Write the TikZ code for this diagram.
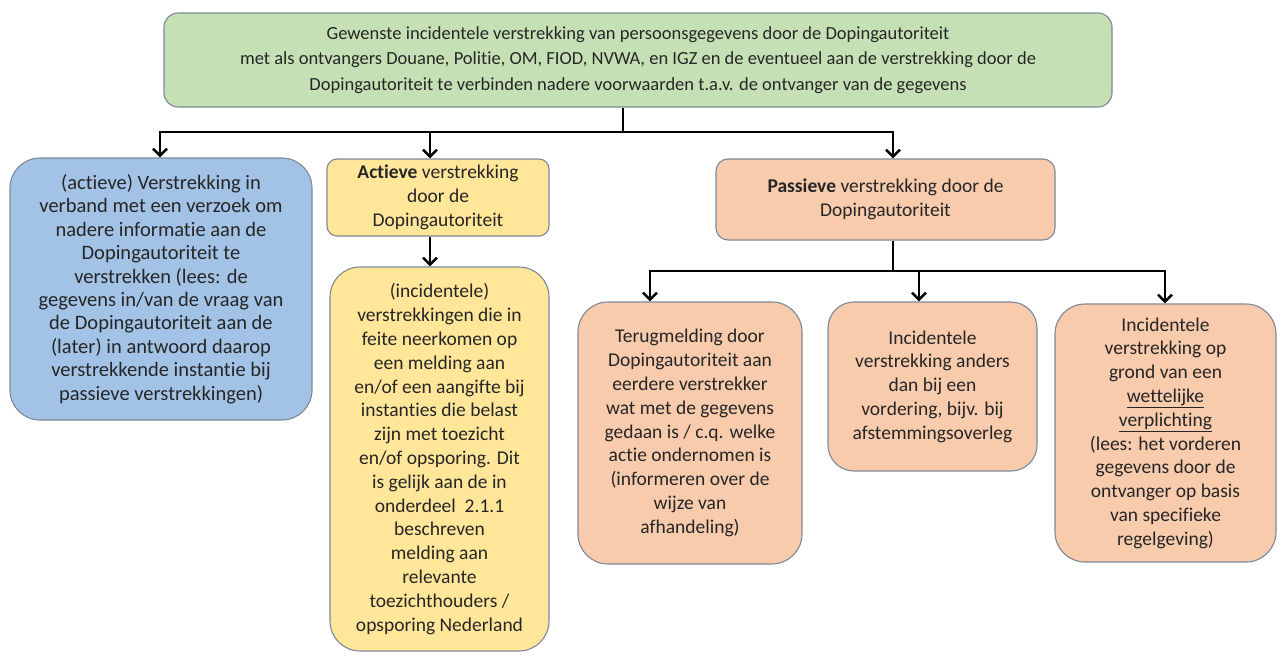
\documentclass[tikz,border=0pt]{standalone}
\usepackage{fontspec}
\setmainfont{Carlito}[Ligatures=NoCommon]
\usetikzlibrary{arrows.meta}

\definecolor{headgreen}{HTML}{C5E0B4}
\definecolor{actblue}{HTML}{A3C3E6}
\definecolor{actyellow}{HTML}{FFE699}
\definecolor{pasorange}{HTML}{F8CBAD}
\definecolor{edgegrey}{HTML}{7D8896}

\begin{document}
\begin{tikzpicture}[
    x=1pt, y=-1pt,
    font=\fontsize{19.5}{23.8}\selectfont,
    box/.style={draw=edgegrey, line width=1.1pt, align=center, inner sep=2pt, text=black!85},
    head/.style={box, fill=headgreen, rounded corners=14pt,
                 font=\fontsize{18.5}{25.5}\selectfont},
    act/.style={box, fill=actblue, rounded corners=30pt,
                font=\fontsize{20.5}{23.4}\selectfont},
    actv/.style={box, fill=actyellow},
    pasv/.style={box, fill=pasorange},
    bar/.style={line width=2.5pt, black},
    flow/.style={bar, -{Straight Barb[length=7pt, width=14pt]}},
]
    \useasboundingbox (0,0) rectangle (1279,654);

    % --- Nodes at pixel positions of the original sheet ---
    \node[head, minimum width=948pt, minimum height=94pt] (head) at (638,60)
        {Gewenste incidentele verstrekking van persoonsgegevens door de Dopingautoriteit\\
         met als ontvangers Douane, Politie, OM, FIOD, NVWA, en IGZ en de eventueel aan de verstrekking door de\\
         Dopingautoriteit te verbinden nadere voorwaarden t.a.v. de ontvanger van de gegevens};

    \node[act, minimum width=302pt, minimum height=262pt] (verzoek) at (161,289)
        {(actieve) Verstrekking in\\verband met een verzoek om\\nadere informatie aan de\\Dopingautoriteit te\\
         verstrekken (lees: de\\gegevens in/van de vraag van\\de Dopingautoriteit aan de\\(later) in antwoord daarop\\
         verstrekkende instantie bij\\passieve verstrekkingen)};

    \node[actv, rounded corners=10pt, minimum width=222pt, minimum height=77pt] (actief) at (438,197.5)
        {\textbf{Actieve} verstrekking\\door de\\Dopingautoriteit};

    \node[actv, rounded corners=30pt, minimum width=219pt, minimum height=384pt] (melding) at (439.5,459)
        {(incidentele)\\verstrekkingen die in\\feite neerkomen op\\een melding aan\\en/of een aangifte bij\\
         instanties die belast\\zijn met toezicht\\en/of opsporing. Dit\\is gelijk aan de in\\onderdeel\ \ 2.1.1\\
         beschreven\\melding aan\\relevante\\toezichthouders /\\opsporing Nederland};

    \node[pasv, rounded corners=12pt, minimum width=339pt, minimum height=81pt] (passief) at (885.5,199.5)
        {\textbf{Passieve} verstrekking door de\\Dopingautoriteit};

    \node[pasv, rounded corners=30pt, minimum width=224pt, minimum height=262pt] (terug) at (690,433)
        {Terugmelding door\\Dopingautoriteit aan\\eerdere verstrekker\\wat met de gegevens\\gedaan is / c.q. welke\\
         actie ondernomen is\\(informeren over de\\wijze van\\afhandeling)};

    \node[pasv, rounded corners=26pt, minimum width=209pt, minimum height=169pt] (anders) at (932.5,386.5)
        {Incidentele\\verstrekking anders\\dan bij een\\vordering, bijv. bij\\afstemmingsoverleg};

    \node[pasv, rounded corners=30pt, minimum width=221pt, minimum height=258pt] (wettelijk) at (1165.5,433)
        {Incidentele\\verstrekking op\\grond van een\\\underline{wettelijke}\\\underline{verplichting}\\
         (lees: het vorderen\\gegevens door de\\ontvanger op basis\\van specifieke\\regelgeving)};

    % --- Branch points on the connector lanes ---
    \coordinate (split)    at (623,132);
    \coordinate (toverz)   at (160,132);
    \coordinate (toactief) at (430,132);
    \coordinate (topas)    at (893,132);
    \coordinate (split2)   at (893,271);
    \coordinate (toterug)  at (650,271);
    \coordinate (toanders) at (919,271);
    \coordinate (towet)    at (1165,271);

    % --- First level ---
    \draw[bar]  (head.south -| split) -- (split);
    \draw[flow] (split) -| (toverz |- verzoek.north);
    \draw[flow] (split) -| (topas |- passief.north);
    \draw[flow] (toactief) -- (toactief |- actief.north);
    \draw[flow] (actief.south -| toactief) -- (toactief |- melding.north);

    % --- Passive branch ---
    \draw[bar]  (passief.south -| split2) -- (split2);
    \draw[flow] (split2) -| (toterug |- terug.north);
    \draw[flow] (split2) -| (towet |- wettelijk.north);
    \draw[flow] (toanders) -- (toanders |- anders.north);
\end{tikzpicture}
\end{document}
